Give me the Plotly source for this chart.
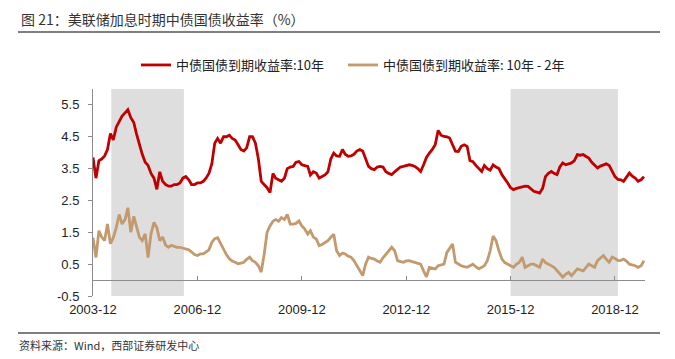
import pandas as pd
import plotly.graph_objects as go

# Monthly observations, 2003-12 .. 2019-10
start_month = "2003-12-01"
yield_10y = [
    3.85, 3.2, 3.75, 3.8, 3.9, 4.1, 4.6, 4.4, 4.8, 5.0, 5.15, 5.25, 5.35, 5.1, 4.95, 4.6,
    4.25, 3.95, 3.7, 3.6, 3.35, 3.2, 2.85, 3.4, 3.1, 3.0, 2.95, 2.95, 3.0, 3.0, 3.05, 3.2,
    3.25, 3.15, 3.0, 3.0, 3.05, 3.05, 3.1, 3.2, 3.35, 3.65, 4.3, 4.45, 4.3, 4.5, 4.5, 4.55,
    4.45, 4.4, 4.25, 4.1, 4.05, 4.15, 4.5, 4.5, 4.3, 3.8, 3.1, 3.0, 2.9, 2.75, 3.35, 3.2,
    3.15, 3.1, 3.2, 3.5, 3.55, 3.57, 3.7, 3.72, 3.62, 3.6, 3.57, 3.3, 3.4, 3.36, 3.2, 3.25,
    3.3, 3.4, 3.8, 3.99, 3.9, 3.89, 4.1, 3.95, 3.89, 3.9, 3.95, 4.05, 4.1, 4.05, 3.78, 3.57,
    3.5, 3.47, 3.55, 3.57, 3.55, 3.4, 3.35, 3.31, 3.4, 3.47, 3.55, 3.57, 3.6, 3.62, 3.6, 3.57,
    3.5, 3.41, 3.62, 3.85, 3.99, 4.1, 4.25, 4.7, 4.55, 4.51, 4.5, 4.46, 4.25, 4.05, 4.04, 4.2,
    4.25, 4.2, 3.75, 3.72, 3.6, 3.52, 3.41, 3.6, 3.5, 3.45, 3.62, 3.55, 3.5, 3.31, 3.2, 3.05,
    2.9, 2.84, 2.88, 2.9, 2.94, 2.95, 2.94, 2.85, 2.79, 2.76, 2.73, 2.88, 3.25, 3.35, 3.41, 3.35,
    3.31, 3.55, 3.68, 3.62, 3.65, 3.68, 3.75, 3.94, 3.92, 3.94, 3.88, 3.83, 3.7, 3.6, 3.52, 3.58,
    3.62, 3.65, 3.6, 3.41, 3.25, 3.16, 3.15, 3.1, 3.25, 3.36, 3.26, 3.2, 3.1, 3.15, 3.25,
]
spread_10y_2y = [
    1.33, 0.71, 1.55, 1.35, 1.24, 1.76, 1.14, 1.33, 1.65, 2.06, 1.76, 1.9, 2.27, 1.5, 2.0, 1.65,
    1.35, 1.24, 1.45, 0.71, 1.45, 1.81, 1.65, 1.24, 1.35, 1.1, 1.03, 1.09, 1.05, 1.03, 1.03, 1.0,
    0.98, 0.95, 0.88, 0.8, 0.77, 0.82, 0.82, 0.88, 0.95, 1.18, 1.3, 1.33, 1.14, 0.93, 0.8, 0.67,
    0.6, 0.56, 0.51, 0.53, 0.56, 0.65, 0.72, 0.61, 0.56, 0.45, 0.25, 0.82, 1.5, 1.7, 1.85, 1.9,
    1.85, 1.96, 1.9, 2.06, 1.76, 1.76, 1.78, 1.86, 1.7, 1.6, 1.44, 1.55, 1.35, 1.29, 1.08, 1.12,
    1.18, 1.24, 1.35, 1.44, 0.92, 0.77, 0.85, 0.82, 0.75, 0.72, 0.61, 0.45, 0.29, 0.14, 0.5, 0.72,
    0.68, 0.66, 0.6, 0.56, 0.7, 0.82, 0.92, 1.03, 0.92, 0.61, 0.58, 0.56, 0.6, 0.61, 0.58, 0.56,
    0.52, 0.5, 0.29, 0.1, 0.4, 0.38, 0.35, 0.45, 0.48, 0.5, 0.87, 1.0, 1.13, 0.56, 0.5, 0.45,
    0.42, 0.4, 0.45, 0.5, 0.42, 0.35, 0.4, 0.45, 0.61, 0.92, 1.38, 1.24, 0.92, 0.66, 0.55, 0.5,
    0.45, 0.4, 0.5, 0.55, 0.72, 0.4, 0.45, 0.5, 0.5, 0.45, 0.4, 0.66, 0.55, 0.5, 0.45, 0.4,
    0.3, 0.19, 0.09, 0.18, 0.24, 0.14, 0.25, 0.35, 0.32, 0.29, 0.4, 0.5, 0.45, 0.4, 0.61, 0.7,
    0.77, 0.65, 0.56, 0.72, 0.68, 0.61, 0.62, 0.66, 0.6, 0.5, 0.48, 0.45, 0.4, 0.45, 0.61,
]
series_names = ["中债国债到期收益率:10年", "中债国债到期收益率: 10年 - 2年"]
hike_periods = [("2004-06-10", "2006-07-12"), ("2015-12-01", "2018-12-31")]
x_tick_dates = ["2003-12-01", "2006-12-01", "2009-12-01", "2012-12-01", "2015-12-01", "2018-12-01"]
x_tick_labels = ["2003-12", "2006-12", "2009-12", "2012-12", "2015-12", "2018-12"]
y_ticks = [-0.5, 0.5, 1.5, 2.5, 3.5, 4.5, 5.5]
x_range = ["2003-12-01", "2019-10-12"]
y_range = [-0.5, 6.0]

dates = pd.date_range(start_month, periods=len(yield_10y), freq="MS")

RED = "#C00000"
TAN = "#C29A6E"
AXIS = "#8C8C8C"
CJK = "Noto Sans CJK SC"
LAT = "Liberation Sans, Arial"

fig = go.Figure()
fig.add_trace(go.Scatter(x=dates, y=yield_10y, name=series_names[0], mode="lines",
                         line=dict(color=RED, width=2.8), legend="legend"))
fig.add_trace(go.Scatter(x=dates, y=spread_10y_2y, name=series_names[1], mode="lines",
                         line=dict(color=TAN, width=2.8), xaxis="x2", legend="legend2"))

for s, e in hike_periods:
    fig.add_shape(type="rect", xref="x", yref="paper", x0=s, x1=e, y0=0, y1=1,
                  fillcolor="#DEDEDE", line_width=0, layer="below")

L, R, T, B = 93, 30, 89, 63
W, H = 675, 359
pw, ph = W - L - R, H - T - B
def px(xp):
    return (xp - L) / pw
def py(yp):
    return (H - B - yp) / ph

zero_pos = (0 - y_range[0]) / (y_range[1] - y_range[0])
legend_style = dict(orientation="h", xanchor="left", y=py(65), yanchor="middle",
                    font=dict(family=CJK, size=13, color="#222222"), bgcolor="rgba(0,0,0,0)")

fig.update_layout(
    width=W, height=H,
    margin=dict(l=L, r=R, t=T, b=B, pad=0),
    paper_bgcolor="white", plot_bgcolor="white",
    showlegend=True,
    legend=dict(x=px(136), **legend_style),
    legend2=dict(x=px(343), **legend_style),
    xaxis=dict(type="date", range=x_range, tickvals=x_tick_dates, ticktext=x_tick_labels,
               showline=False, ticks="", showgrid=False, zeroline=False, automargin=False,
               tickfont=dict(family=LAT, size=13, color="#222222"), ticklabelstandoff=4),
    xaxis2=dict(type="date", range=x_range, overlaying="x", anchor="free", position=zero_pos,
                side="bottom", tickvals=x_tick_dates, showticklabels=False, automargin=False,
                showline=True, linecolor=AXIS, linewidth=1, ticks="inside", ticklen=4,
                tickcolor=AXIS, showgrid=False, zeroline=False, layer="below traces"),
    yaxis=dict(range=y_range, tickvals=y_ticks, ticktext=[f"{v:.1f}" for v in y_ticks],
               showline=True, linecolor=AXIS, linewidth=1, ticks="outside", ticklen=4,
               tickcolor=AXIS, showgrid=False, zeroline=False, automargin=False,
               tickfont=dict(family=LAT, size=13, color="#222222"), ticklabelstandoff=6),
)

# title, separator lines, source note
fig.add_annotation(xref="paper", yref="paper", x=px(19), y=py(19), xanchor="left", yanchor="middle",
                   text="图 21：美联储加息时期中债国债收益率（%）", showarrow=False,
                   font=dict(family=CJK, size=14, color="#333333"))
fig.add_shape(type="line", xref="paper", yref="paper", x0=px(18), x1=px(660), y0=py(32), y1=py(32),
              line=dict(color="#7F7F7F", width=2))
fig.add_shape(type="line", xref="paper", yref="paper", x0=px(18), x1=px(660), y0=py(333), y1=py(333),
              line=dict(color="#7F7F7F", width=2))
fig.add_annotation(xref="paper", yref="paper", x=px(17), y=py(345), xanchor="left", yanchor="middle",
                   text="资料来源：Wind，西部证券研发中心", showarrow=False,
                   font=dict(family=CJK, size=11, color="#333333"))

fig.write_html("out.html", config={"displayModeBar": False},
               post_script="document.body.style.margin='0';document.body.style.padding='0';")
